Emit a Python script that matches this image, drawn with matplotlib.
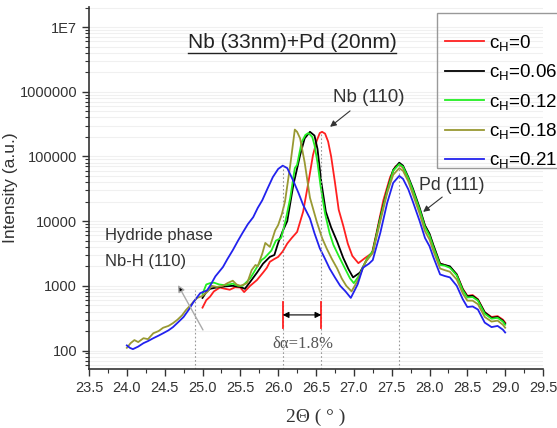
"""XRD scans of Nb (33nm)+Pd (20nm) film at several hydrogen concentrations."""

import numpy as np
import matplotlib
matplotlib.use('Agg')
import matplotlib.pyplot as plt
from matplotlib.lines import Line2D
from matplotlib.patches import Rectangle
from matplotlib.ticker import FixedLocator, MultipleLocator, LogLocator, NullFormatter

# ---- data (2theta in degrees, intensity in a.u.) ----
red_x = [25.00, 25.05, 25.10, 25.15, 25.23, 25.30, 25.36, 25.43, 25.50, 25.55,
         25.63, 25.72, 25.80, 25.85, 25.89, 25.95, 26.00, 26.06, 26.12, 26.18,
         26.25, 26.33, 26.40, 26.46, 26.51, 26.55, 26.58, 26.62, 26.66, 26.70,
         26.75, 26.80, 26.86, 26.92, 26.98, 27.06, 27.15, 27.24, 27.30, 27.39,
         27.48, 27.55, 27.60, 27.65, 27.72, 27.78, 27.87, 27.94, 28.00, 28.05,
         28.14, 28.20, 28.27, 28.36, 28.44, 28.50, 28.57, 28.64, 28.73, 28.82,
         28.90, 28.97, 29.00]
red_y = [460, 600, 680, 820, 940, 900, 870, 950, 940, 800,
         1000, 1230, 1600, 1900, 2350, 2600, 2800, 3400, 4500, 5500,
         6800, 14000, 40000, 105000, 175000, 230000, 240000, 225000, 170000, 100000,
         40000, 15000, 8500, 4500, 2900, 2240, 2700, 3200, 6600, 21000,
         48000, 70000, 75000, 67000, 45000, 30000, 15000, 8500, 6200, 4200,
         2200, 2100, 1950, 1500, 900, 700, 720, 620, 390, 330,
         340, 300, 270]

black_x = [25.00, 25.05, 25.10, 25.20, 25.30, 25.40, 25.50, 25.56, 25.63, 25.72,
           25.80, 25.89, 25.95, 26.00, 26.06, 26.12, 26.20, 26.25, 26.29, 26.35,
           26.42, 26.48, 26.52, 26.57, 26.63, 26.70, 26.78, 26.86, 26.93, 26.99,
           27.08, 27.17, 27.25, 27.35, 27.44, 27.52, 27.60, 27.65, 27.72, 27.78,
           27.87, 27.94, 28.00, 28.05, 28.14, 28.20, 28.27, 28.36, 28.44, 28.50,
           28.57, 28.64, 28.73, 28.82, 28.90, 28.97, 29.00]
black_y = [650, 800, 900, 950, 980, 1000, 960, 900, 1150, 1600,
           2200, 2800, 3000, 4600, 7000, 10000, 36000, 65000, 105000, 190000,
           240000, 210000, 130000, 40000, 14000, 8000, 4800, 2700, 1800, 1350,
           1600, 2500, 3400, 11500, 30000, 62000, 80000, 72000, 48000, 32000,
           16000, 8600, 6400, 4300, 2200, 2100, 2000, 1500, 880, 690,
           700, 610, 390, 320, 330, 290, 260]

green_x = [25.00, 25.05, 25.10, 25.15, 25.22, 25.30, 25.40, 25.47, 25.53, 25.63,
           25.72, 25.78, 25.82, 25.91, 25.97, 26.04, 26.10, 26.16, 26.22, 26.25,
           26.31, 26.36, 26.40, 26.45, 26.48, 26.52, 26.56, 26.62, 26.68, 26.73,
           26.80, 26.86, 26.95, 27.00, 27.08, 27.17, 27.25, 27.35, 27.44, 27.52,
           27.60, 27.65, 27.72, 27.78, 27.87, 27.94, 28.00, 28.05, 28.14, 28.20,
           28.27, 28.36, 28.44, 28.50, 28.57, 28.64, 28.73, 28.82, 28.90, 28.97,
           29.00]
green_y = [750, 1050, 1100, 1120, 1050, 1020, 1080, 1000, 1000, 1300,
           1950, 2500, 2700, 3500, 5000, 5500, 10500, 23000, 66000, 74000,
           166000, 215000, 230000, 200000, 150000, 80000, 35000, 13000, 6500, 4300,
           2900, 2100, 1300, 1100, 1500, 2600, 3400, 11000, 29000, 60000,
           76000, 69000, 46000, 30000, 15000, 8100, 6000, 4000, 2100, 2050,
           1900, 1450, 850, 660, 670, 590, 370, 310, 320, 280, 250]

olive_x = [24.00, 24.05, 24.10, 24.15, 24.22, 24.28, 24.35, 24.42, 24.48, 24.55,
           24.61, 24.67, 24.73, 24.78, 24.84, 24.90, 24.93, 25.00, 25.06, 25.12,
           25.19, 25.27, 25.33, 25.40, 25.45, 25.50, 25.55, 25.59, 25.65, 25.70,
           25.73, 25.79, 25.83, 25.89, 25.96, 26.00, 26.05, 26.09, 26.16, 26.22,
           26.25, 26.29, 26.35, 26.42, 26.51, 26.58, 26.64, 26.71, 26.78, 26.84,
           26.90, 26.97, 27.05, 27.15, 27.25, 27.35, 27.44, 27.52, 27.60, 27.65,
           27.72, 27.78, 27.87, 27.94, 28.00, 28.05, 28.14, 28.20, 28.27, 28.36,
           28.44, 28.50, 28.57, 28.64, 28.73, 28.82, 28.90, 28.97, 29.00]
olive_y = [110, 130, 145, 135, 155, 150, 185, 200, 225, 240,
           265, 300, 350, 420, 500, 600, 650, 700, 800, 1000,
           960, 1000, 1100, 1200, 1050, 1000, 1050, 1100, 1750, 2100,
           2000, 3150, 4600, 4000, 7200, 8700, 13000, 20000, 74000, 260000,
           240000, 190000, 81000, 23000, 9800, 5500, 3800, 2600, 1850, 1300,
           1000, 820, 1200, 2300, 3200, 10000, 27000, 52000, 66000, 60000,
           41000, 26000, 13000, 7000, 5200, 3500, 1850, 1750, 1650, 1250,
           760, 590, 590, 520, 330, 280, 290, 250, 225]

blue_x = [24.00, 24.04, 24.08, 24.15, 24.22, 24.28, 24.35, 24.42, 24.48, 24.55,
          24.61, 24.68, 24.75, 24.82, 24.88, 24.97, 25.06, 25.10, 25.17, 25.27,
          25.33, 25.40, 25.47, 25.53, 25.60, 25.67, 25.73, 25.79, 25.86, 25.93,
          26.00, 26.06, 26.12, 26.20, 26.27, 26.33, 26.42, 26.48, 26.55, 26.62,
          26.68, 26.75, 26.82, 26.89, 26.96, 27.05, 27.12, 27.20, 27.25, 27.35,
          27.44, 27.52, 27.60, 27.65, 27.72, 27.78, 27.87, 27.94, 28.00, 28.05,
          28.14, 28.20, 28.27, 28.36, 28.44, 28.50, 28.57, 28.64, 28.73, 28.82,
          28.90, 28.97, 29.00]
blue_y = [120, 110, 105, 115, 130, 140, 155, 170, 185, 205,
          230, 275, 330, 430, 560, 770, 850, 1000, 1400, 1950,
          2600, 3550, 5000, 6600, 9000, 11500, 16000, 21000, 32000, 48000,
          64000, 72000, 66000, 42000, 27000, 17800, 11000, 6500, 3800, 2600,
          1850, 1350, 1000, 820, 650, 1050, 1900, 2200, 2500, 6600,
          19000, 39000, 50000, 45000, 31000, 20000, 10000, 5500, 4100, 2800,
          1500, 1420, 1350, 1000, 620, 470, 480, 430, 270, 230,
          240, 210, 190]

labels = ['c$_H$=0', 'c$_H$=0.06', 'c$_H$=0.12', 'c$_H$=0.18', 'c$_H$=0.21']
colors = ['#ff2020', '#000000', '#22ee22', '#999933', '#2222ee']

ytick_vals = [100, 1000, 10000, 100000, 1000000, 10000000]
ytick_labels = ['100', '1000', '10000', '100000', '1000000', '1E7']

# positions of the marked peaks (dotted guides) and their top intensity
guide_x = [24.9, 26.06, 26.57, 27.6]
guide_top = [850, 72000, 240000, 80000]

W, H = 557., 428.


def main():
    plt.rcParams['font.family'] = ['Liberation Sans', 'DejaVu Sans']
    plt.rcParams['mathtext.default'] = 'regular'

    fig = plt.figure(figsize=(W / 100, H / 100), dpi=100)
    ax = fig.add_axes([89 / W, 1 - 369 / H, 454 / W, 362 / H])

    series = [(red_x, red_y), (black_x, black_y), (green_x, green_y),
              (olive_x, olive_y), (blue_x, blue_y)]
    for (xx, yy), col, lab in zip(series, colors, labels):
        ax.plot(xx, yy, color=col, lw=1.3, label=lab)

    ax.set_yscale('log')
    ax.set_xlim(23.5, 29.5)
    ax.set_ylim(51.8, 2.04e7)

    # dotted guides down from the peaks
    for gx, gt in zip(guide_x, guide_top):
        ax.plot([gx, gx], [51.8, gt], ls=(0, (1.5, 2)), color='#999999', lw=0.8)

    # lattice shift marker
    for gx in (26.06, 26.57):
        ax.plot([gx, gx], [225, 560], color='#ff2020', lw=1.3)
    ax.annotate('', xy=(26.06, 355), xytext=(26.57, 355),
                arrowprops=dict(arrowstyle='<|-|>', color='black', lw=0.8,
                                mutation_scale=9, shrinkA=0, shrinkB=0))
    ax.text(0.471, 0.069, '\u03b4\u03b1=1.8%', transform=ax.transAxes,
            ha='center', va='center', fontsize=12, color='#555555',
            family='Liberation Serif')

    # ticks
    ax.xaxis.set_major_locator(MultipleLocator(0.5))
    ax.xaxis.set_minor_locator(MultipleLocator(0.25))
    ax.xaxis.set_major_formatter(plt.FuncFormatter(lambda v, p: '%.1f' % v))
    ax.yaxis.set_major_locator(FixedLocator(ytick_vals))
    ax.yaxis.set_major_formatter(plt.FixedFormatter(ytick_labels))
    ax.yaxis.set_minor_locator(LogLocator(base=10, subs=np.arange(2, 10)))
    ax.yaxis.set_minor_formatter(NullFormatter())
    ax.tick_params(which='both', direction='out', labelsize=10.5,
                   colors='#333333', labelcolor='#333333')
    ax.tick_params(which='major', length=5, width=1)
    ax.tick_params(which='minor', length=3, width=0.8)
    for side in ('top', 'right'):
        ax.spines[side].set_visible(False)
    for side in ('left', 'bottom'):
        ax.spines[side].set_color('#333333')
        ax.spines[side].set_linewidth(1.2)
    ax.yaxis.grid(True, which='both', color='#f0f0f0', lw=0.8)
    ax.set_axisbelow(True)

    ax.set_ylabel('Intensity (a.u.)', fontsize=12.5, color='#333333')
    ax.yaxis.set_label_coords(-0.156, 0.5)
    ax.set_xlabel('2\u0398 ( \u00b0 )', fontsize=14, color='#333333',
                  family='Liberation Serif', labelpad=10)

    # labels and arrows
    title = ax.text(0.447, 0.903, 'Nb (33nm)+Pd (20nm)', transform=ax.transAxes,
                    ha='center', va='center', fontsize=15, color='#222222')
    ax.text(0.617, 0.751, 'Nb (110)', transform=ax.transAxes, ha='center',
            va='center', fontsize=13.5, color='#333333')
    ax.annotate('', xy=(0.531, 0.669), xytext=(0.575, 0.713),
                xycoords='axes fraction', textcoords='axes fraction',
                arrowprops=dict(arrowstyle='-|>', color='#333333', lw=0.8,
                                mutation_scale=9, shrinkA=0, shrinkB=0))
    ax.text(0.80, 0.508, 'Pd (111)', transform=ax.transAxes, ha='center',
            va='center', fontsize=12.8, color='#333333')
    ax.annotate('', xy=(0.736, 0.434), xytext=(0.778, 0.475),
                xycoords='axes fraction', textcoords='axes fraction',
                arrowprops=dict(arrowstyle='-|>', color='#333333', lw=0.8,
                                mutation_scale=9, shrinkA=0, shrinkB=0))
    ax.text(0.035, 0.370, 'Hydride phase', transform=ax.transAxes, ha='left',
            va='center', fontsize=12, color='#333333')
    ax.text(0.035, 0.296, 'Nb-H (110)', transform=ax.transAxes, ha='left',
            va='center', fontsize=12, color='#333333')
    ax.annotate('', xy=(0.196, 0.232), xytext=(0.251, 0.108),
                xycoords='axes fraction', textcoords='axes fraction',
                arrowprops=dict(arrowstyle='-|>', ec='#aaaaaa', fc='black',
                                lw=1.0, mutation_scale=10, shrinkA=0, shrinkB=0))

    # legend without frame, frame drawn separately so it runs off the edge
    fig.legend(loc='upper left', bbox_to_anchor=(445 / W, 1 - 33 / H),
               bbox_transform=fig.transFigure, borderaxespad=0, borderpad=0,
               fontsize=13.5, handlelength=2.1, labelspacing=0.5,
               handletextpad=0.25, frameon=False)
    fig.patches.append(Rectangle((437 / W, 1 - 168 / H), 130 / W, 155 / H,
                                 transform=fig.transFigure, fill=False,
                                 ec='#999999', lw=1.0))

    # underline the sample title
    fig.canvas.draw()
    bb = title.get_window_extent()
    fig.lines.append(Line2D([bb.x0, bb.x1], [bb.y0 - 1, bb.y0 - 1],
                            transform=None, color='#222222', lw=1.0))

    fig.savefig('out.png', dpi=100)


if __name__ == '__main__':
    main()
